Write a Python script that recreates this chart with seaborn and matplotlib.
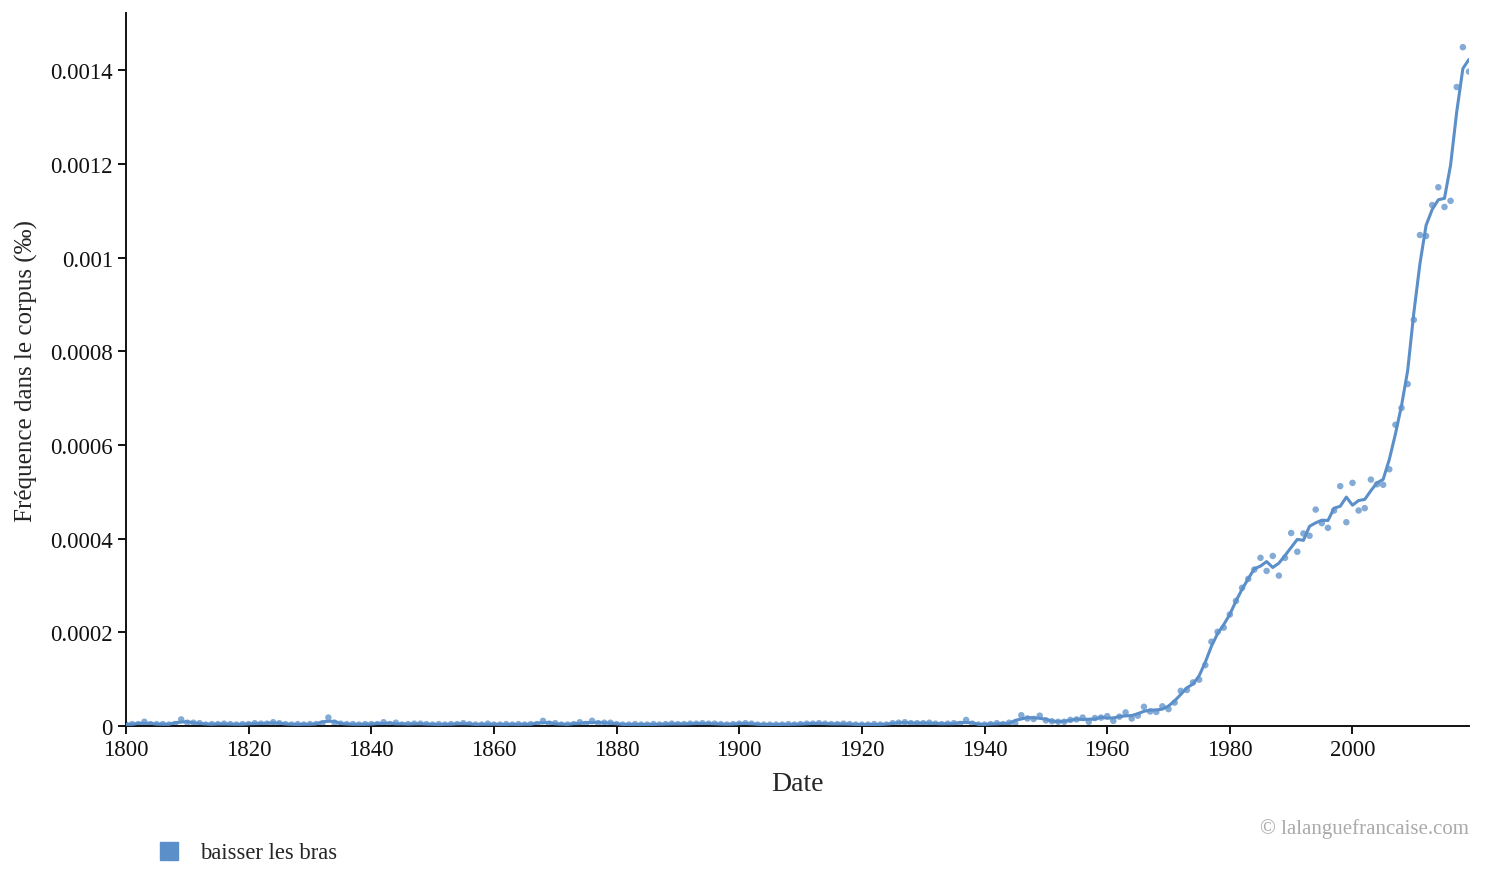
import numpy as np
import pandas as pd
import matplotlib
matplotlib.use("Agg")
import matplotlib.pyplot as plt
from matplotlib.lines import Line2D
from matplotlib.ticker import FuncFormatter
import seaborn as sns

# ---- data (frequency in the corpus, per mille) ----
years = list(range(1800, 2020))

# values in units of 1e-6 (‰)
freq_1800_1899 = [
    3, 4, 4, 9, 4, 4, 4, 3, 4, 14,
    7, 7, 6, 3, 4, 4, 5, 4, 3, 4,
    4, 6, 5, 5, 8, 6, 4, 3, 4, 3,
    4, 4, 5, 18, 7, 5, 4, 4, 3, 4,
    4, 4, 8, 4, 7, 3, 4, 5, 5, 4,
    3, 4, 3, 4, 4, 6, 4, 3, 3, 5,
    3, 3, 4, 3, 4, 3, 4, 4, 11, 5,
    6, 3, 3, 4, 8, 4, 11, 6, 7, 7,
    4, 3, 3, 4, 3, 3, 4, 3, 4, 5,
    4, 4, 5, 5, 6, 5, 5, 4, 3, 4,
]
freq_1900_1959 = [
    5, 6, 5, 3, 3, 3, 3, 3, 4, 3,
    4, 5, 5, 6, 5, 4, 4, 5, 4, 3,
    3, 3, 4, 3, 3, 6, 7, 8, 6, 6,
    6, 7, 5, 4, 5, 6, 4, 13, 5, 3,
    3, 4, 6, 4, 7, 6, 23, 16, 15, 22,
    12, 10, 9, 9, 13, 14, 18, 9, 17, 18,
]
freq_1960_2019 = [
    21, 11, 20, 29, 16, 22, 41, 31, 30, 42,
    36, 50, 75, 77, 93, 99, 130, 180, 201, 210,
    238, 267, 295, 314, 334, 359, 331, 363, 321, 359,
    412, 372, 411, 406, 462, 433, 423, 460, 512, 435,
    519, 460, 465, 526, 516, 515, 548, 643, 679, 730,
    867, 1048, 1046, 1112, 1150, 1108, 1121, 1364, 1449, 1397,
]

freq = np.array(freq_1800_1899 + freq_1900_1959 + freq_1960_2019) * 1e-6
df = pd.DataFrame({"Date": years, "freq": freq})
# smoothed curve: centred 3-year moving average of the yearly values
df["smooth"] = df["freq"].rolling(3, center=True, min_periods=1).mean()

series_label = "baisser les bras"
color = "#5b8fc9"

# ---- style ----
sns.set_style("ticks")
plt.rcParams["font.family"] = ["Liberation Serif", "DejaVu Serif"]
plt.rcParams["axes.edgecolor"] = "#111111"
plt.rcParams["xtick.color"] = "#111111"
plt.rcParams["ytick.color"] = "#111111"

fig = plt.figure(figsize=(14.85, 8.87), dpi=100)
ax = fig.add_axes([126 / 1485, 1 - 727 / 887, (1469 - 126) / 1485, (727 - 14) / 887])

sns.scatterplot(data=df, x="Date", y="freq", ax=ax, color=color, s=22,
                alpha=0.75, edgecolor="none", legend=False, zorder=2)
sns.lineplot(data=df, x="Date", y="smooth", ax=ax, color=color, linewidth=2.2,
             legend=False, zorder=3)

ax.set_xlim(1800, 2019)
ax.set_ylim(0, 0.001522)
ax.set_xticks(range(1800, 2001, 20))
ax.set_yticks([0, 0.0002, 0.0004, 0.0006, 0.0008, 0.001, 0.0012, 0.0014])
ax.yaxis.set_major_formatter(FuncFormatter(lambda v, p: "{:g}".format(round(v, 6))))
ax.tick_params(axis="both", labelsize=16.5, length=6, width=1.4, direction="out")
for side in ("left", "bottom"):
    ax.spines[side].set_linewidth(1.4)
sns.despine(ax=ax)

ax.set_xlabel("Date", fontsize=20, labelpad=8)
ax.set_ylabel("Fréquence dans le corpus (‰)", fontsize=18, labelpad=9)

handle = Line2D([], [], marker="s", linestyle="", color=color, markersize=13)
fig.legend([handle], [series_label], loc="center left",
           bbox_to_anchor=(143 / 1485, 1 - 854 / 887), frameon=False,
           fontsize=16.3, handletextpad=0.7, borderpad=0, handlelength=1.3)

fig.text(1469 / 1485, 1 - 829 / 887, "© lalanguefrancaise.com", ha="right",
         va="center", fontsize=15, color="#aaaaaa")

fig.savefig("out.png", dpi=100)
